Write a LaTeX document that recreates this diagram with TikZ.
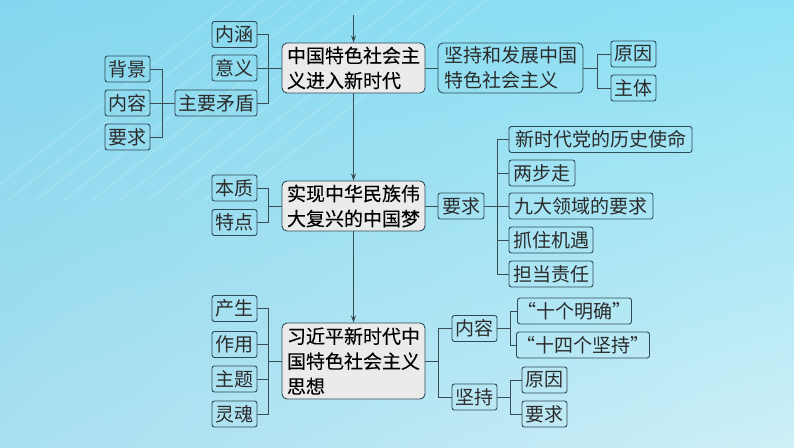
\documentclass[tikz,border=0pt]{standalone}
\usepackage{fontspec}
\newfontfamily\cjk{Noto Sans CJK SC}
\newfontfamily\cjkm[FakeBold=0.2]{Noto Sans CJK SC}
\usetikzlibrary{arrows.meta,shadings}
\definecolor{bgA}{HTML}{84D6EE}
\definecolor{bgB}{HTML}{8FE2F5}
\definecolor{bgC}{HTML}{A8DFF0}
\definecolor{bgD}{HTML}{CDEFF7}
\definecolor{edge}{HTML}{2E4A56}
\definecolor{wire}{HTML}{3A4C54}
\definecolor{mainfill}{HTML}{EBEBEB}
\definecolor{txt}{HTML}{2B2B2B}
\tikzset{
  sbox/.style={draw=edge, line width=0.9pt, rounded corners=2.5pt, inner sep=0pt,
    minimum height=26pt, text=txt, font=\cjk\fontsize{19}{22}\selectfont},
  mbox/.style={draw=edge, line width=0.9pt, fill=mainfill, rounded corners=5pt, inner sep=0pt,
    minimum width=143pt, text=black, align=left, font=\cjkm\fontsize{19}{25}\selectfont},
  gbox/.style={mbox, fill=none, minimum width=145pt, text=txt, font=\cjk\fontsize{19}{25}\selectfont},
  wire/.style={draw=wire, line width=0.9pt},
  arr/.style={wire, -{Stealth[length=7pt,width=5pt]}}
}
\begin{document}
\begin{tikzpicture}[x=1pt,y=-1pt]
\useasboundingbox (0,0) rectangle (794,447);
\shade[upper left=bgA, upper right=bgB, lower left=bgC, lower right=bgD] (0,0) rectangle (794,447);
\foreach \i in {0,...,9}{
  \draw[white, opacity=0.12, line width=2pt] (-20+\i*28,200) -- (260+\i*28,-20);
}
% main boxes
\node[mbox, minimum height=50pt] (m1) at (353.5,68) {中国特色社会主\\义进入新时代};
\node[mbox, minimum height=50pt] (m2) at (353.5,206) {实现中华民族伟\\大复兴的中国梦};
\node[mbox, minimum height=76pt] (m3) at (353.5,361) {习近平新时代中\\国特色社会主义\\思想};
\coordinate (top) at (353.5,15);
\draw[arr] (top) -- (m1.north);
\draw[arr] (m1.south) -- (m2.north);
\draw[arr] (m2.south) -- (m3.north);
% top group
\node[sbox, minimum width=45pt] (neihan) at (234.5,34.5) {内涵};
\node[sbox, minimum width=45pt] (yiyi) at (234.5,68) {意义};
\node[sbox, minimum width=82pt] (zymd) at (216,103) {主要矛盾};
\node[sbox, minimum width=45pt] (bj) at (127.5,69) {背景};
\node[sbox, minimum width=45pt] (nr1) at (127.5,103) {内容};
\node[sbox, minimum width=45pt] (yq1) at (127.5,137) {要求};
\coordinate (b1) at (268.5,68);
\draw[wire] (neihan.east) -| (b1);
\draw[wire] (zymd.east) -| (b1);
\draw[wire] (yiyi.east) -- (m1.west);
\coordinate (b0) at (162,103);
\draw[wire] (bj.east) -| (b0);
\draw[wire] (yq1.east) -| (b0);
\draw[wire] (nr1.east) -- (zymd.west);
\node[gbox, minimum height=50pt] (jc) at (510.5,68) {坚持和发展中国\\特色社会主义};
\draw[wire] (m1.east) -- (jc.west);
\node[sbox, minimum width=45pt] (yy1) at (633.5,54) {原因};
\node[sbox, minimum width=45pt] (zt) at (633.5,88) {主体};
\coordinate (b2) at (597.5,68);
\draw[wire] (jc.east) -- (b2);
\draw[wire] (yy1.west) -| (b2);
\draw[wire] (zt.west) -| (b2);
% middle group
\node[sbox, minimum width=45pt] (bz) at (234.5,188) {本质};
\node[sbox, minimum width=45pt] (td) at (234.5,222.5) {特点};
\coordinate (b3) at (268.5,206);
\draw[wire] (bz.east) -| (b3);
\draw[wire] (td.east) -| (b3);
\draw[wire] (b3) -- (m2.west);
\node[sbox, minimum width=46pt] (yq2) at (461,206) {要求};
\draw[wire] (m2.east) -- (yq2.west);
\node[sbox, minimum width=183pt] (r1) at (600.5,139.5) {新时代党的历史使命};
\node[sbox, minimum width=66pt] (r2) at (542,173) {两步走};
\node[sbox, minimum width=144pt] (r3) at (581,206) {九大领域的要求};
\node[sbox, minimum width=84pt] (r4) at (551,240) {抓住机遇};
\node[sbox, minimum width=84pt] (r5) at (551,274) {担当责任};
\coordinate (b4) at (497,206);
\draw[wire] (yq2.east) -- (r3.west);
\draw[wire] (r1.west) -| (b4);
\draw[wire] (r2.west) -| (b4);
\draw[wire] (r4.west) -| (b4);
\draw[wire] (r5.west) -| (b4);
% bottom group
\node[sbox, minimum width=45pt] (cs) at (234.5,308.5) {产生};
\node[sbox, minimum width=45pt] (zy) at (234.5,344.5) {作用};
\node[sbox, minimum width=45pt] (zt3) at (234.5,379) {主题};
\node[sbox, minimum width=45pt] (lh) at (234.5,414) {灵魂};
\coordinate (b5) at (268.5,361);
\draw[wire] (cs.east) -| (b5);
\draw[wire] (zy.east) -| (b5);
\draw[wire] (zt3.east) -| (b5);
\draw[wire] (lh.east) -| (b5);
\draw[wire] (b5) -- (m3.west);
\node[sbox, minimum width=45pt] (nr3) at (474.5,328.5) {内容};
\node[sbox, minimum width=45pt] (jc3) at (474.5,397) {坚持};
\coordinate (b6) at (438,361);
\draw[wire] (m3.east) -- (b6);
\draw[wire] (nr3.west) -| (b6);
\draw[wire] (jc3.west) -| (b6);
\node[sbox, minimum width=105pt] (q1) at (574.5,311) {“十个明确”};
\node[sbox, minimum width=122pt] (q2) at (583,345) {“十四个坚持”};
\node[sbox, minimum width=45pt] (yy3) at (544.5,380) {原因};
\node[sbox, minimum width=45pt] (yq3) at (544.5,414) {要求};
\coordinate (b7) at (510,328.5);
\draw[wire] (nr3.east) -- (b7);
\draw[wire] (q1.west) -| (b7);
\draw[wire] (q2.west) -| (b7);
\coordinate (b8) at (510,397);
\draw[wire] (jc3.east) -- (b8);
\draw[wire] (yy3.west) -| (b8);
\draw[wire] (yq3.west) -| (b8);
\end{tikzpicture}
\end{document}
